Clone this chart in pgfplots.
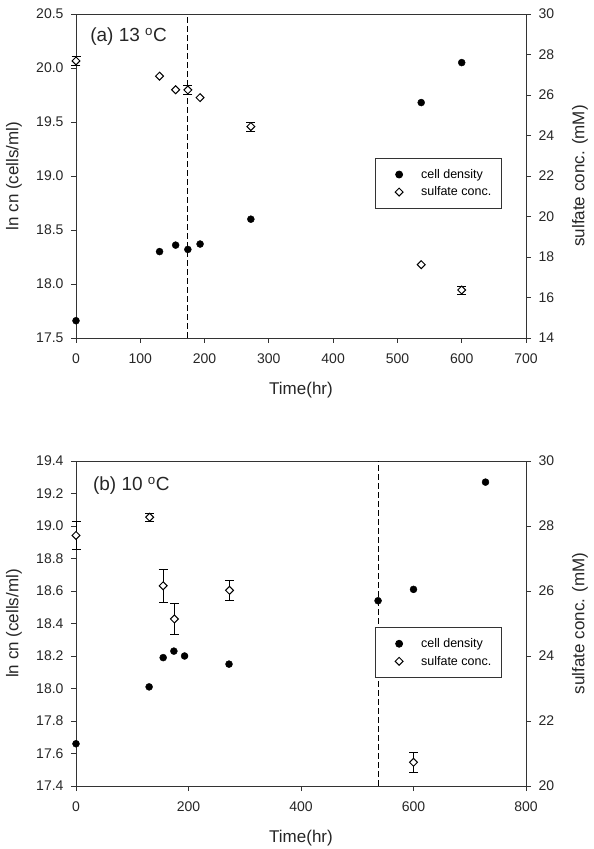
\documentclass[border=0pt]{standalone}
\usepackage{pgfplots}
\pgfplotsset{compat=1.18}
\usepackage{fontspec}
\setmainfont{Liberation Sans}

\pgfplotsset{
  base/.style={scale only axis, width=450pt, tick align=outside, major tick length=5pt,
    axis line style={line width=0.9pt, black!80},
    every tick/.style={line width=0.9pt, black!80},
    tick label style={font=\fontsize{14}{16}\selectfont, black!85},
    xticklabel style={yshift=-7pt},
    label style={font=\fontsize{17}{19}\selectfont, black!85},
    /pgf/number format/assume math mode=true, clip=false},
  cd/.style={only marks, mark=*, mark size=3.5pt, mark options={fill=black, draw=black}},
  sf/.style={only marks, mark=square*, mark size=2.8pt, mark options={rotate=45, fill=white, draw=black, line width=1pt}},
  eb/.style={draw=none, mark=none, error bars/y dir=both, error bars/y explicit,
    error bars/error bar style={line width=0.8pt, black},
    error bars/error mark options={rotate=90, mark size=4.5pt, line width=0.8pt, black}},
  lg/.style={legend style={draw=black!80, line width=0.8pt, font=\fontsize{12.5}{14}\selectfont,
    inner xsep=8pt, inner ysep=9pt, row sep=3pt,
    /tikz/every odd column/.append style={column sep=16pt}}, legend cell align=left,
    legend image code/.code={\draw[mark repeat=2,mark phase=2,##1] plot coordinates {(0cm,0cm) (0.3cm,0cm) (0.6cm,0cm)}; \path (-7pt,0pt);}},
}

\begin{document}
\begin{tikzpicture}
\path[use as bounding box] (0,0) rectangle (594pt,849pt);

% ---------------- Panel (a) ----------------
\begin{axis}[base, height=324pt, at={(76pt,511pt)}, anchor=south west,
  xmin=0, xmax=700, ymin=17.5, ymax=20.5,
  xtick={0,100,...,700}, ytick={17.5,18,...,20.5},
  xtick pos=bottom, ytick pos=left,
  yticklabel style={xshift=-4pt, /pgf/number format/.cd, fixed, fixed zerofill, precision=1},
  xlabel={Time(hr)}, ylabel={ln cn (cells/ml)},
  xlabel style={at={(axis description cs:0.5,-0.16)}, anchor=center},
  ylabel style={at={(axis description cs:-0.138,0.5)}, anchor=center}]
\addplot[cd] coordinates {(0,17.66) (130,18.30) (155,18.36) (174,18.32) (193,18.37) (272,18.60) (537,19.68) (600,20.05)};
\addplot[dashed, line width=1pt, dash pattern=on 6pt off 3pt] coordinates {(174,17.5) (174,20.5)};
\node[anchor=base west, font=\fontsize{19}{21}\selectfont, black!85] at (rel axis cs:0.024,0.914) {(a) 13 \textsuperscript{o}C};
\end{axis}
\begin{axis}[base, lg, height=324pt, at={(76pt,511pt)}, anchor=south west,
  xmin=0, xmax=700, ymin=14, ymax=30, axis x line=none, axis y line*=right,
  ytick={14,16,...,30}, ytick pos=right,
  yticklabel style={xshift=4pt},
  ylabel={sulfate conc. (mM)},
  ylabel style={at={(axis description cs:1.12,0.5)}, anchor=center, rotate=0},
  legend style={at={(0.664,0.556)}, anchor=north west}]
\addlegendimage{cd}
\addlegendentry{cell density}
\addlegendimage{sf}
\addlegendentry{sulfate conc.}
\addplot[forget plot, eb] coordinates {(0,27.68) +- (0,0.22) (174,26.25) +- (0,0.2) (272,24.44) +- (0,0.22) (600,16.37) +- (0,0.2)};
\addplot[forget plot, sf] coordinates {(0,27.68) (130,26.93) (155,26.26) (174,26.25) (193,25.87) (272,24.44) (537,17.62) (600,16.37)};
\end{axis}

% ---------------- Panel (b) ----------------
\begin{axis}[base, height=325pt, at={(76pt,63pt)}, anchor=south west,
  xmin=0, xmax=800, ymin=17.4, ymax=19.4,
  xtick={0,200,...,800}, ytick={17.4,17.6,...,19.41},
  xtick pos=bottom, ytick pos=left,
  yticklabel style={xshift=-4pt, /pgf/number format/.cd, fixed, fixed zerofill, precision=1},
  xlabel={Time(hr)}, ylabel={ln cn (cells/ml)},
  xlabel style={at={(axis description cs:0.5,-0.159)}, anchor=center},
  ylabel style={at={(axis description cs:-0.138,0.5)}, anchor=center}]
\addplot[cd] coordinates {(0,17.66) (130,18.01) (155,18.19) (174,18.23) (193,18.20) (272,18.15) (537,18.54) (600,18.61) (728,19.27)};
\addplot[dashed, line width=1pt, dash pattern=on 6pt off 3pt] coordinates {(537,17.4) (537,19.4)};
\node[anchor=base west, font=\fontsize{19}{21}\selectfont, black!85] at (rel axis cs:0.030,0.908) {(b) 10 \textsuperscript{o}C};
\end{axis}
\begin{axis}[base, lg, height=325pt, at={(76pt,63pt)}, anchor=south west,
  xmin=0, xmax=800, ymin=20, ymax=30, axis x line=none, axis y line*=right,
  ytick={20,22,...,30}, ytick pos=right,
  yticklabel style={xshift=4pt},
  ylabel={sulfate conc. (mM)},
  ylabel style={at={(axis description cs:1.12,0.5)}, anchor=center, rotate=0},
  legend style={at={(0.664,0.489)}, anchor=north west}]
\addlegendimage{cd}
\addlegendentry{cell density}
\addlegendimage{sf}
\addlegendentry{sulfate conc.}
\addplot[forget plot, eb] coordinates {(0,27.71) +- (0,0.42) (131,28.27) +- (0,0.12) (155,26.16) +- (0,0.5) (175,25.14) +- (0,0.49) (273,26.02) +- (0,0.3) (600,20.73) +- (0,0.3)};
\addplot[forget plot, sf] coordinates {(0,27.71) (131,28.27) (155,26.16) (175,25.14) (273,26.02) (600,20.73)};
\end{axis}
\end{tikzpicture}
\end{document}
